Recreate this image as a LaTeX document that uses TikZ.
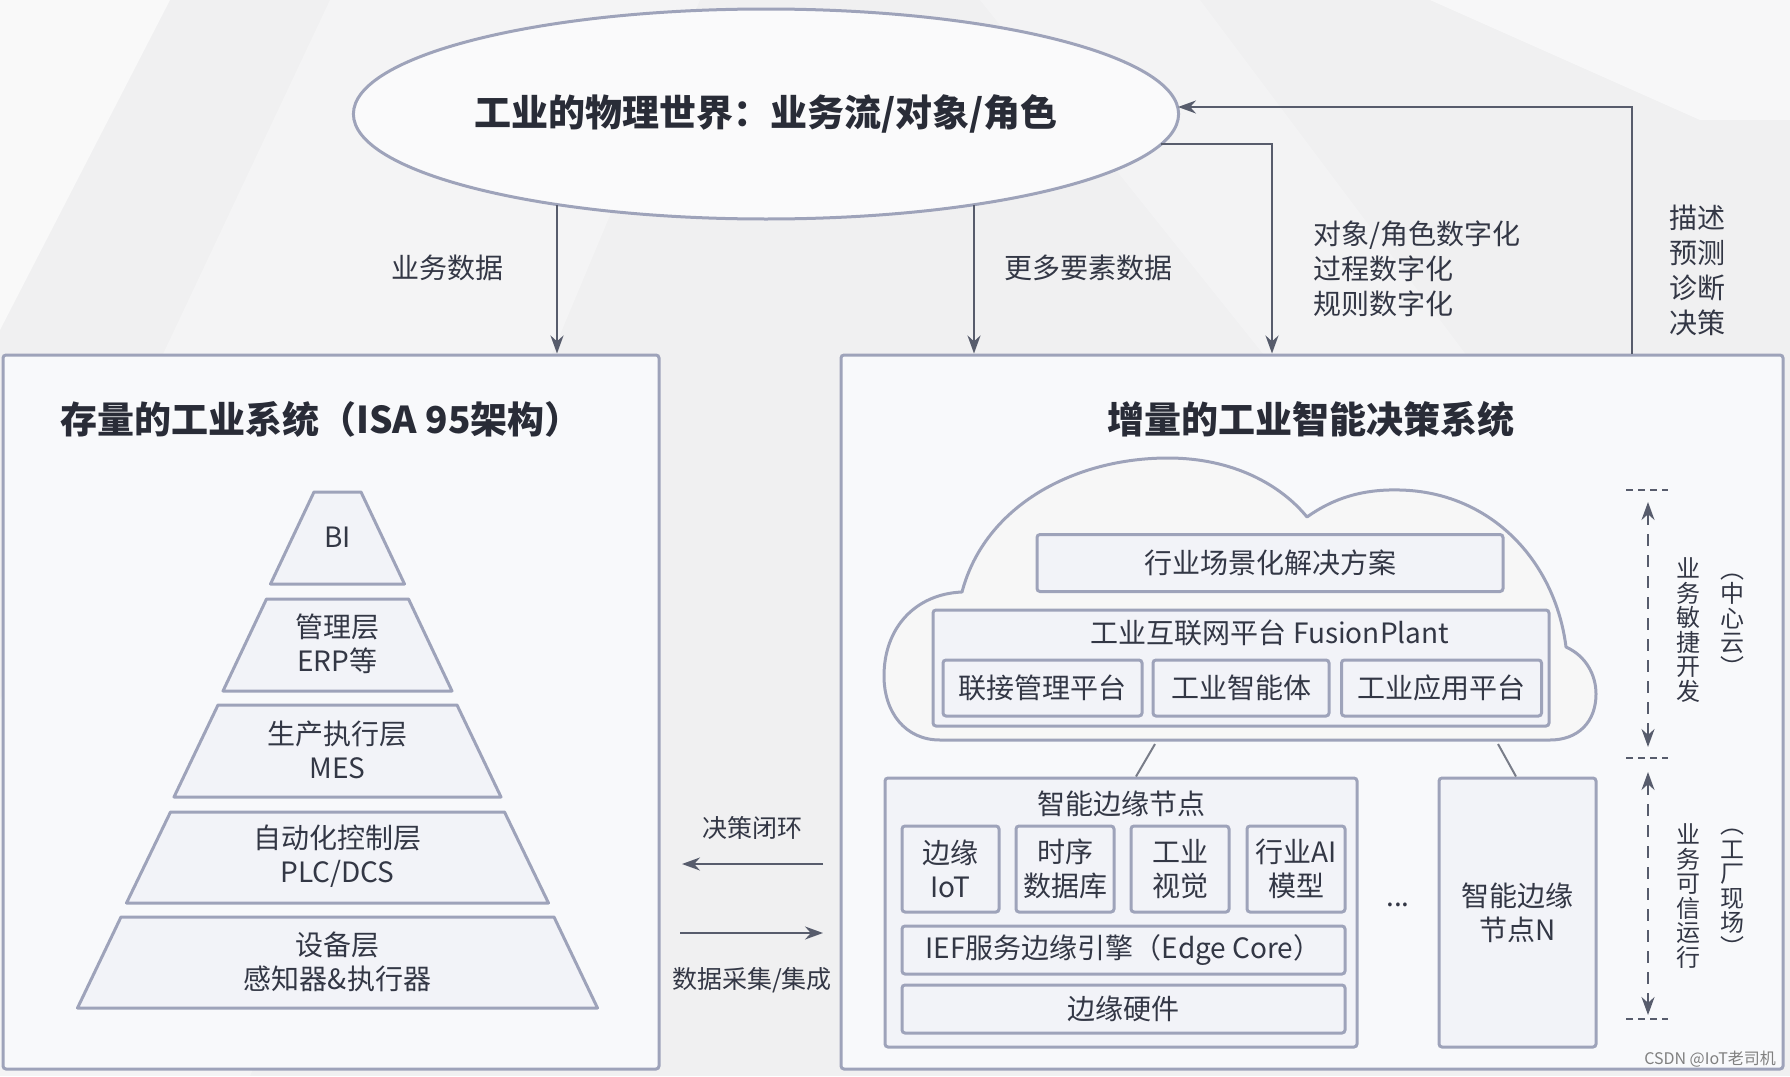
\documentclass[tikz,border=0pt]{standalone}
\usepackage{fontspec}
\setmainfont{Noto Sans CJK SC}
\usetikzlibrary{shapes.geometric,arrows.meta,calc}
\definecolor{bordc}{HTML}{9EA3BA}
\definecolor{fillc}{HTML}{F2F3F8}
\definecolor{bgc}{HTML}{F0F0F1}
\definecolor{txtc}{HTML}{333745}
\definecolor{arrc}{HTML}{575C6C}
\tikzset{
  box/.style={draw=bordc, line width=3pt, fill=fillc, rounded corners=3pt, inner sep=0pt,
    text=txtc, font=\fontsize{28}{34}\selectfont, align=center},
  bigbox/.style={draw=bordc, line width=3pt, fill=fillc!50!white, rounded corners=3pt, inner sep=0pt},
  lbl/.style={text=txtc, font=\fontsize{28}{35}\selectfont, align=center, inner sep=0pt},
  smlbl/.style={text=txtc, font=\fontsize{25}{30}\selectfont, align=center, inner sep=0pt},
  vlbl/.style={text=txtc, font=\fontsize{24}{24.5}\selectfont, align=center, inner sep=0pt},
  ttl/.style={text=txtc!80!black, font=\fontsize{37}{40}\selectfont\bfseries, inner sep=0pt},
  layer/.style={draw=bordc, line width=3pt, fill=fillc, line join=round},
  arr/.style={draw=arrc, line width=2pt, -{Stealth[length=18pt,width=13pt]}},
  darr/.style={draw=arrc, line width=2pt, dash pattern=on 12pt off 9pt,
    {Stealth[length=18pt,width=13pt]}-{Stealth[length=18pt,width=13pt]}},
  tick/.style={draw=arrc, line width=1.5pt, dash pattern=on 7pt off 5pt},
  thin/.style={draw=arrc!80, line width=2pt}
}
\begin{document}
\begin{tikzpicture}[x=1pt,y=-1pt]
\useasboundingbox (0,0) rectangle (1790,1076);
\fill[bgc] (0,0) rectangle (1790,1076);
% light background streaks
\fill[white,opacity=0.6] (0,0) -- (170,0) -- (0,330) -- cycle;
\fill[white,opacity=0.3] (330,0) -- (700,0) -- (250,1076) -- (0,1076) -- (0,700) -- cycle;
\fill[white,opacity=0.5] (1430,0) -- (1790,0) -- (1790,120) -- (1700,120) -- cycle;
\fill[white,opacity=0.25] (980,0) -- (1200,0) -- (1500,400) -- (1300,400) -- cycle;

% ellipse
\node[ellipse, draw=bordc, line width=3pt, fill=white!70!bgc, minimum width=824pt, minimum height=210pt, inner sep=0pt, ttl] (ell) at (766,114) {工业的物理世界：业务流/对象/角色};

% big boxes
\node[bigbox, minimum width=656pt, minimum height=714pt] (lbox) at (331,712) {};
\node[bigbox, minimum width=942pt, minimum height=714pt] (rbox) at (1312,712) {};
\node[ttl] (ltitle) at (321,419) {存量的工业系统（ISA 95架构）};
\node[ttl] (rtitle) at (1311,419) {增量的工业智能决策系统};

% top arrows
\coordinate (a1s) at (557,205);
\draw[arr] (a1s) -- (a1s |- lbox.north);
\coordinate (a2s) at (974,205);
\draw[arr] (a2s) -- (a2s |- rbox.north);
\coordinate (a3s) at (1161,144);
\coordinate (a3c) at (1272,144);
\draw[arr] (a3s) -- (a3c) -- (a3c |- rbox.north);
\coordinate (a4c) at (1632,107);
\coordinate (a4e) at (1178,107);
\draw[arr] (a4c |- rbox.north) -- (a4c) -- (a4e);
\node[lbl] (l1) at (447,268) {业务数据};
\node[lbl] (l2) at (1088,268) {更多要素数据};
\node[lbl, anchor=west, align=left] (l3) at (1313,269) {对象/角色数字化\\过程数字化\\规则数字化};
\node[lbl] (l4) at (1697,270) {描述\\预测\\诊断\\决策};

% pyramid
\path[layer] (314,492) -- (361,492) -- (404.5,584) -- (270.5,584) -- cycle;
\path[layer] (266.5,599) -- (408.5,599) -- (452,691) -- (223,691) -- cycle;
\path[layer] (218,705) -- (457,705) -- (501,797) -- (174,797) -- cycle;
\path[layer] (170.5,812) -- (504.5,812) -- (548.5,903) -- (126.5,903) -- cycle;
\path[layer] (121,917) -- (554,917) -- (597.5,1008) -- (77.5,1008) -- cycle;
\node[lbl, font=\fontsize{28}{34}\selectfont] (p1) at (337.5,537) {BI};
\node[lbl, font=\fontsize{28}{34}\selectfont] (p2) at (337.5,644) {管理层\\ERP等};
\node[lbl, font=\fontsize{28}{34}\selectfont] (p3) at (337.5,750) {生产执行层\\MES};
\node[lbl, font=\fontsize{28}{34}\selectfont] (p4) at (337.5,856) {自动化控制层\\PLC/DCS};
\node[lbl, font=\fontsize{28}{34}\selectfont] (p5) at (337.5,962) {设备层\\感知器\&执行器};

% middle arrows
\coordinate (m1s) at (823,864);
\coordinate (m1e) at (682,864);
\draw[arr] (m1s) -- (m1e);
\coordinate (m2s) at (680,933);
\coordinate (m2e) at (823,933);
\draw[arr] (m2s) -- (m2e);
\node[smlbl] (ml1) at (752,828) {决策闭环};
\node[smlbl] (ml2) at (752,980) {数据采集/集成};

% cloud
\path[draw=bordc, line width=3pt, fill=white!45!bgc, line join=round]
  (940,740) .. controls (905,740) and (884,712) .. (884,676)
  .. controls (884,628) and (915,594) .. (962,592)
  .. controls (985,505) and (1075,458) .. (1168,458)
  .. controls (1232,458) and (1280,484) .. (1307,517)
  .. controls (1335,497) and (1365,489) .. (1400,490)
  .. controls (1490,492) and (1555,560) .. (1566,647)
  .. controls (1586,656) and (1596,675) .. (1596,694)
  .. controls (1596,722) and (1578,740) .. (1550,740)
  -- cycle;
\node[box, minimum width=466pt, minimum height=57pt] (sol) at (1270,563) {行业场景化解决方案};
\node[box, minimum width=616pt, minimum height=116pt] (plat) at (1241,668) {};
\node[lbl, font=\fontsize{28}{34}\selectfont] (platt) at (1270,633) {工业互联网平台 FusionPlant};
\node[box, minimum width=199pt, minimum height=56pt] (c1) at (1042.5,688) {联接管理平台};
\node[box, minimum width=176pt, minimum height=56pt] (c2) at (1241,688) {工业智能体};
\node[box, minimum width=200pt, minimum height=56pt] (c3) at (1441.5,688) {工业应用平台};

% edge nodes
\node[box, minimum width=472pt, minimum height=269pt] (edge) at (1121,912.5) {};
\node[lbl, font=\fontsize{28}{34}\selectfont] (edget) at (1121,804) {智能边缘节点};
\node[box, minimum width=97pt, minimum height=86pt] (e1) at (950.5,869) {边缘\\IoT};
\node[box, minimum width=98pt, minimum height=86pt] (e2) at (1065,869) {时序\\数据库};
\node[box, minimum width=98pt, minimum height=86pt] (e3) at (1180,869) {工业\\视觉};
\node[box, minimum width=98pt, minimum height=86pt] (e4) at (1296,869) {行业AI\\模型};
\node[box, minimum width=443pt, minimum height=48pt] (ief) at (1123.5,950) {IEF服务边缘引擎（Edge Core）};
\node[box, minimum width=443pt, minimum height=48pt] (hw) at (1123.5,1009) {边缘硬件};
\node[box, minimum width=157pt, minimum height=269pt] (edgen) at (1517.5,912.5) {智能边缘\\节点N};
\node[lbl] (dots) at (1398,905) {...};
\coordinate (k1) at (1155,744);
\coordinate (k2) at (1498,744);
\draw[thin] (k1) -- (edge.north -| 1136,0);
\draw[thin] (k2) -- (edgen.north -| 1516,0);

% right dashed arrows
\coordinate (t1) at (1648,490);
\coordinate (t2) at (1648,758);
\coordinate (t3) at (1648,1019);
\draw[tick] ($(t1)+(-22,0)$) -- ($(t1)+(20,0)$);
\draw[tick] ($(t2)+(-22,0)$) -- ($(t2)+(20,0)$);
\draw[tick] ($(t3)+(-22,0)$) -- ($(t3)+(20,0)$);
\draw[darr] ($(t1)+(0,12)$) -- ($(t2)+(0,-11)$);
\draw[darr] ($(t2)+(0,14)$) -- ($(t3)+(0,-4)$);
\node[vlbl] (v1) at (1688,630) {业\\务\\敏\\捷\\开\\发};
\node[vlbl] (v2) at (1732,625) {︵\\中\\心\\云\\︶};
\node[vlbl] (v3) at (1688,896) {业\\务\\可\\信\\运\\行};
\node[vlbl] (v4) at (1732,893) {︵\\工\\厂\\现\\场\\︶};

% watermark
\node[text=black!50, font=\fontsize{16}{16}\selectfont, inner sep=0pt, anchor=east] (wm) at (1776,1059) {CSDN @IoT老司机};
\end{tikzpicture}
\end{document}
